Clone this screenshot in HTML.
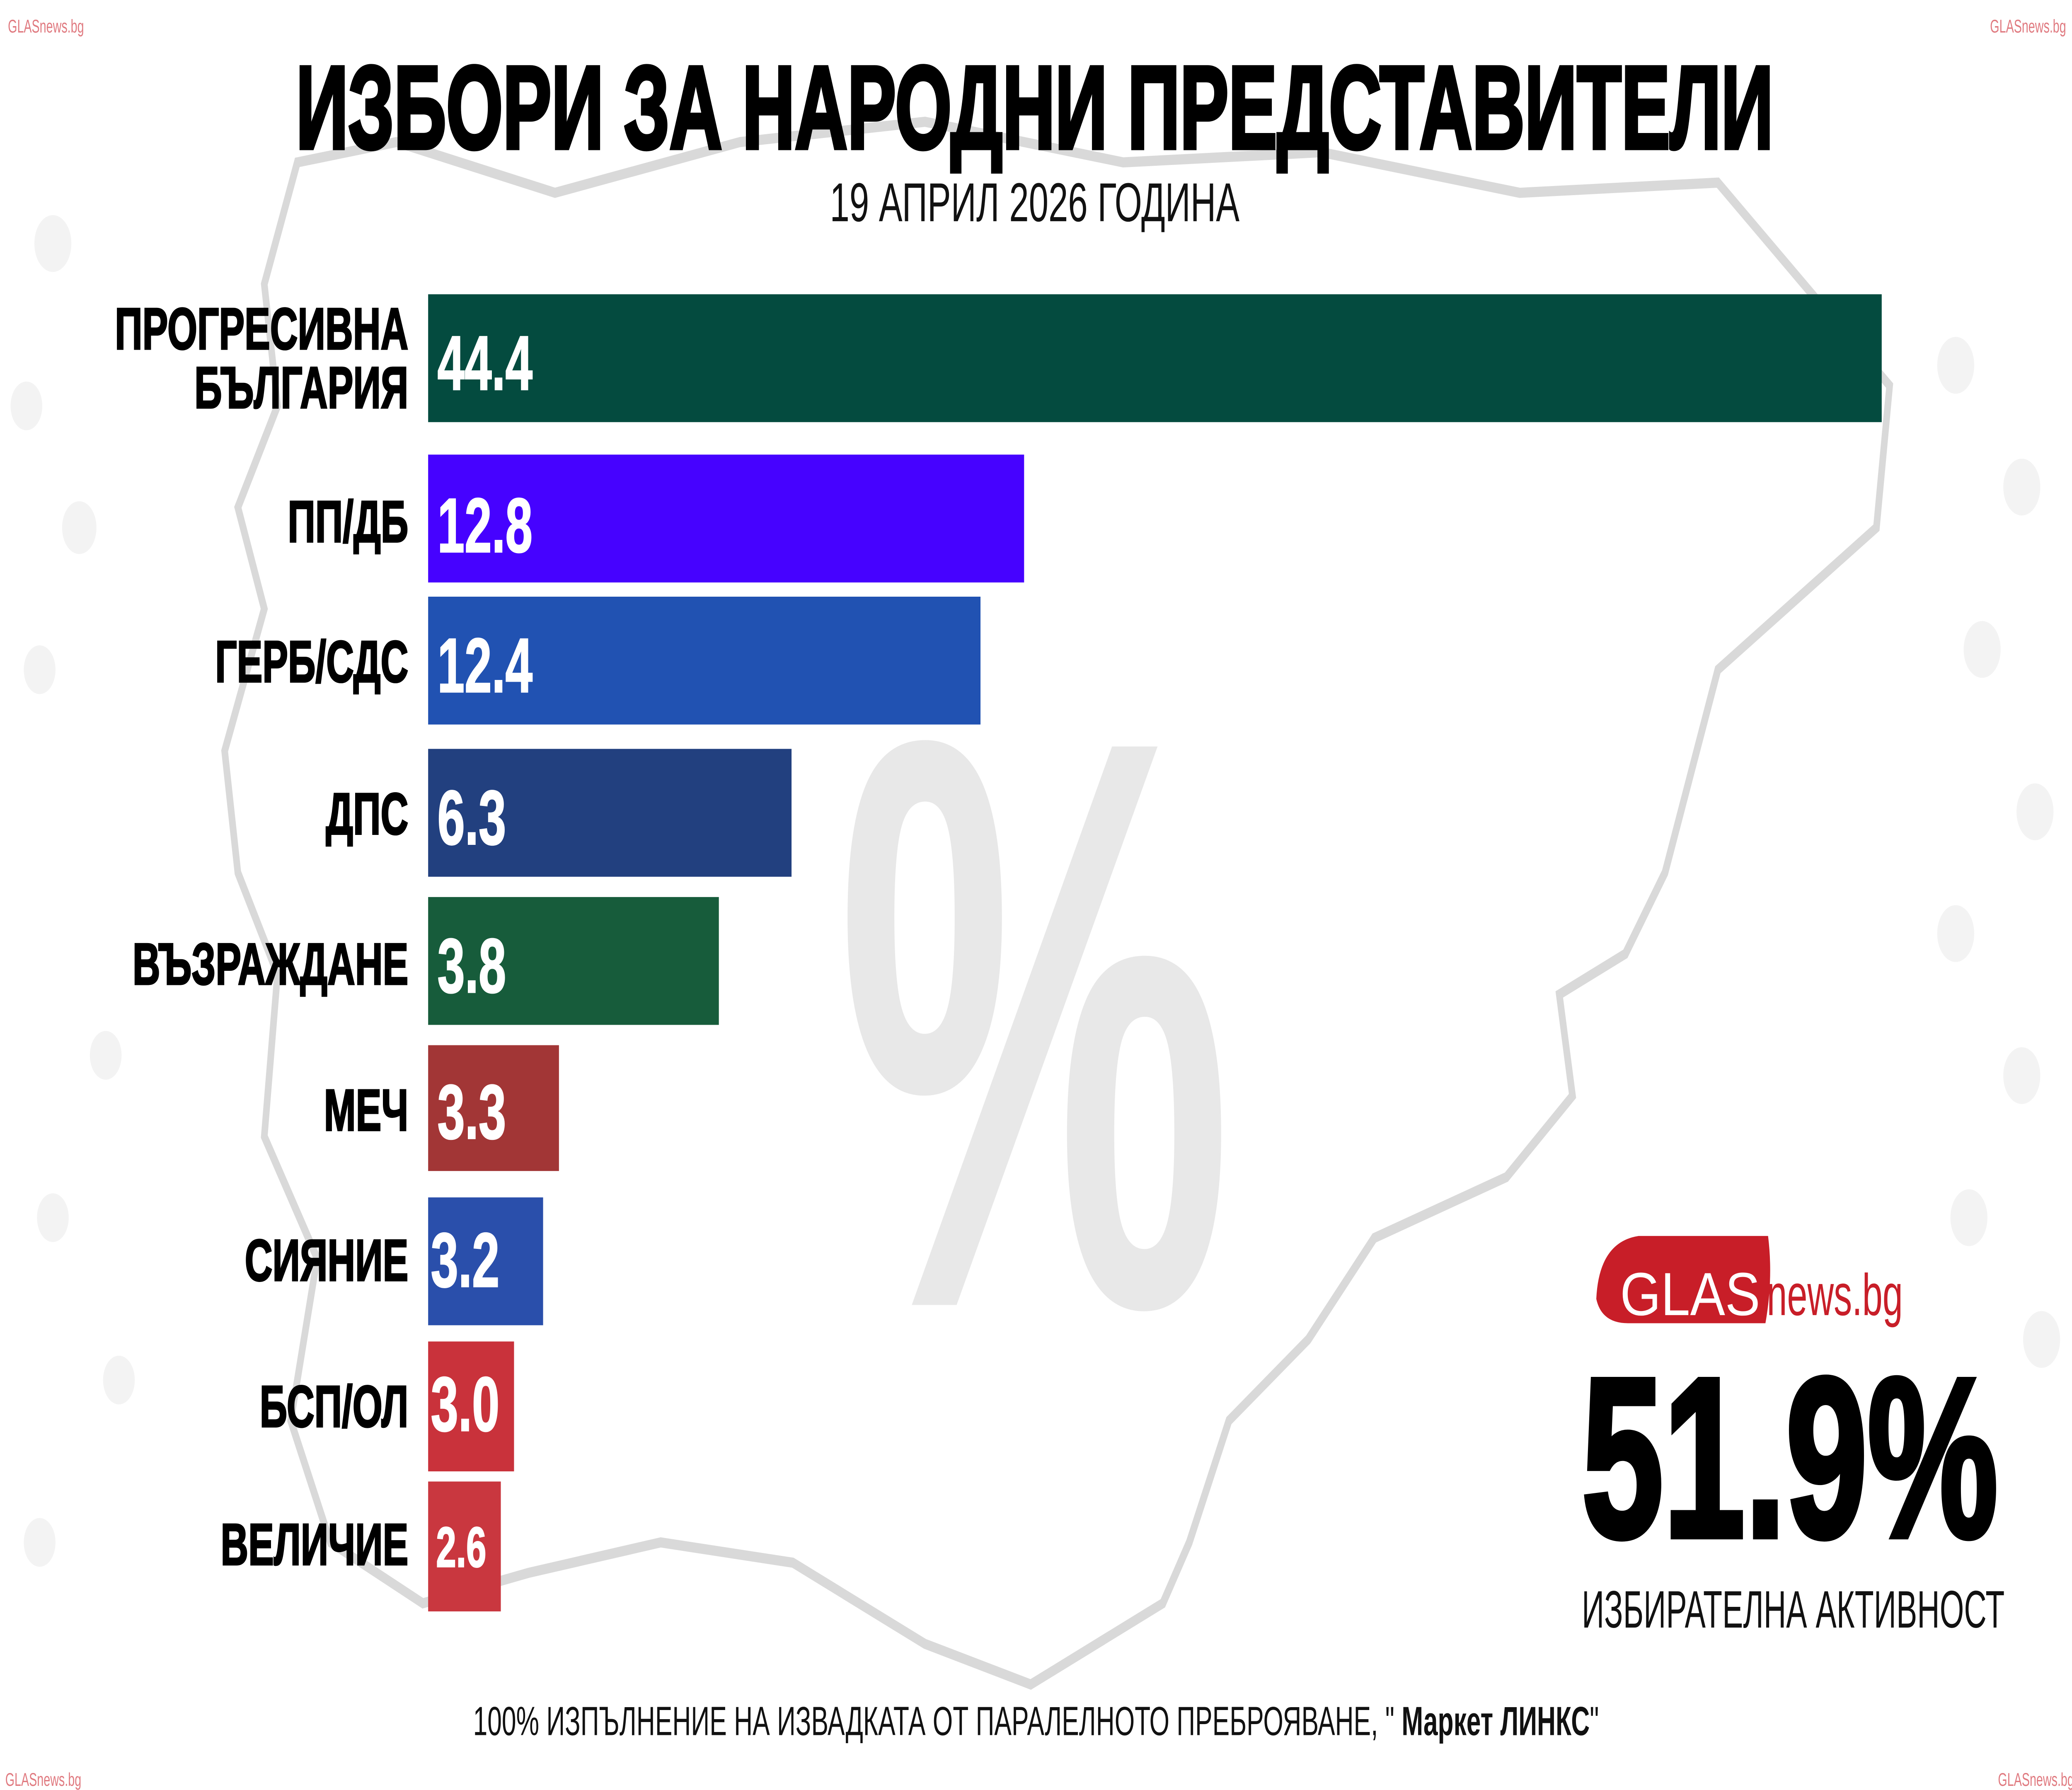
<!DOCTYPE html>
<html><head><meta charset="utf-8"><style>
html,body{margin:0;padding:0;background:#fff;width:100%;height:100%;overflow:hidden;}
svg{display:block;width:100vw;height:100vh;}
</style></head><body>
<svg viewBox="0 0 1568 882" preserveAspectRatio="none" xmlns="http://www.w3.org/2000/svg" font-family="Liberation Sans, DejaVu Sans, sans-serif">
<rect width="1568" height="882" fill="#fff"/>
<g fill="#f3f3f3">
<circle cx="40" cy="120" r="14"/><circle cx="20" cy="200" r="12"/><circle cx="60" cy="260" r="13"/><circle cx="30" cy="330" r="12"/>
<circle cx="1480" cy="180" r="14"/><circle cx="1530" cy="240" r="14"/><circle cx="1500" cy="320" r="14"/><circle cx="1540" cy="400" r="14"/>
<circle cx="1480" cy="460" r="14"/><circle cx="1530" cy="530" r="14"/><circle cx="1490" cy="600" r="14"/><circle cx="1545" cy="660" r="14"/>
<circle cx="80" cy="520" r="12"/><circle cx="40" cy="600" r="12"/><circle cx="90" cy="680" r="12"/><circle cx="30" cy="760" r="12"/>
</g>
<path d="M225 80 L300 70 L420 95 L560 70 L700 60 L850 80 L1000 75 L1150 95 L1300 90 L1430 190 L1420 260 L1300 330 L1280 380 L1260 430 L1230 470 L1180 490 L1190 540 L1140 580 L1040 610 L990 660 L930 700 L900 760 L880 790 L780 830 L700 810 L600 770 L500 760 L400 775 L320 790 L250 760 L220 700 L240 620 L200 560 L210 480 L180 430 L170 370 L200 300 L180 250 L210 200 L200 140 Z" fill="none" stroke="#d9d9d9" stroke-width="5"/>
<text x="783" y="643" text-anchor="middle" font-size="400" font-weight="bold" fill="#e8e8e8" textLength="300" lengthAdjust="spacingAndGlyphs">%</text>
<text x="783" y="73" text-anchor="middle" font-size="58" font-weight="bold" fill="#000" stroke="#000" stroke-width="2" textLength="1118" lengthAdjust="spacingAndGlyphs">ИЗБОРИ ЗА НАРОДНИ ПРЕДСТАВИТЕЛИ</text>
<text x="783" y="109" text-anchor="middle" font-size="27" fill="#111" textLength="310" lengthAdjust="spacingAndGlyphs">19 АПРИЛ 2026 ГОДИНА</text>
<g fill="#000" font-weight="bold" font-size="29" text-anchor="end" stroke="#000" stroke-width="0.8">
<text x="309" y="172">ПРОГРЕСИВНА</text>
<text x="309" y="201">БЪЛГАРИЯ</text>
<text x="309" y="267">ПП/ДБ</text>
<text x="309" y="336">ГЕРБ/СДС</text>
<text x="309" y="411">ДПС</text>
<text x="309" y="485">ВЪЗРАЖДАНЕ</text>
<text x="309" y="557">МЕЧ</text>
<text x="309" y="631">СИЯНИЕ</text>
<text x="309" y="703">БСП/ОЛ</text>
<text x="309" y="771">ВЕЛИЧИЕ</text>
</g>
<rect x="324" y="145" width="1100" height="63" fill="#044b3f"/>
<rect x="324" y="224" width="451" height="63" fill="#4602ff"/>
<rect x="324" y="294" width="418" height="63" fill="#2152b2"/>
<rect x="324" y="369" width="275" height="63" fill="#22407f"/>
<rect x="324" y="442" width="220" height="63" fill="#175c3b"/>
<rect x="324" y="515" width="99" height="62" fill="#a23636"/>
<rect x="324" y="590" width="87" height="63" fill="#2a4fab"/>
<rect x="324" y="661" width="65" height="64" fill="#c9323b"/>
<rect x="324" y="730" width="55" height="64" fill="#c9373f"/>
<g fill="#fff" font-weight="bold" font-size="38" stroke="#fff" stroke-width="0.6">
<text x="331" y="192" textLength="72" lengthAdjust="spacingAndGlyphs">44.4</text>
<text x="331" y="272" textLength="72" lengthAdjust="spacingAndGlyphs">12.8</text>
<text x="331" y="341" textLength="72" lengthAdjust="spacingAndGlyphs">12.4</text>
<text x="331" y="416" textLength="52" lengthAdjust="spacingAndGlyphs">6.3</text>
<text x="331" y="489" textLength="52" lengthAdjust="spacingAndGlyphs">3.8</text>
<text x="331" y="561" textLength="52" lengthAdjust="spacingAndGlyphs">3.3</text>
<text x="326" y="634" textLength="52" lengthAdjust="spacingAndGlyphs">3.2</text>
<text x="326" y="705" textLength="52" lengthAdjust="spacingAndGlyphs">3.0</text>
<text x="330" y="772" font-size="28" textLength="38" lengthAdjust="spacingAndGlyphs">2.6</text>
</g>
<path d="M1240 609 L1338 609 Q1342 630 1336 652 L1232 652 Q1212 652 1208 640 Q1210 612 1240 609 Z" fill="#c81e28"/>
<text x="1226" y="648" font-size="30" fill="#fff" textLength="106" lengthAdjust="spacingAndGlyphs">GLAS</text>
<text x="1337" y="648" font-size="29" fill="#c81e28" textLength="103" lengthAdjust="spacingAndGlyphs">news.bg</text>
<text x="1197" y="757" font-size="112" font-weight="bold" fill="#000" stroke="#000" stroke-width="3" textLength="315" lengthAdjust="spacingAndGlyphs">51.9%</text>
<text x="1197" y="802" font-size="26" fill="#111" textLength="320" lengthAdjust="spacingAndGlyphs">ИЗБИРАТЕЛНА АКТИВНОСТ</text>
<text x="358" y="855" font-size="20" fill="#111" textLength="852" lengthAdjust="spacingAndGlyphs">100% ИЗПЪЛНЕНИЕ НА ИЗВАДКАТА ОТ ПАРАЛЕЛНОТО ПРЕБРОЯВАНЕ, " <tspan font-weight="bold">Маркет ЛИНКС</tspan>"</text>
<g font-size="9" fill="#e07a80"><text x="6" y="16">GLASnews.bg</text><text x="1506" y="16">GLASnews.bg</text><text x="4" y="880">GLASnews.bg</text><text x="1512" y="880">GLASnews.bg</text></g>
</svg>
</body></html>
